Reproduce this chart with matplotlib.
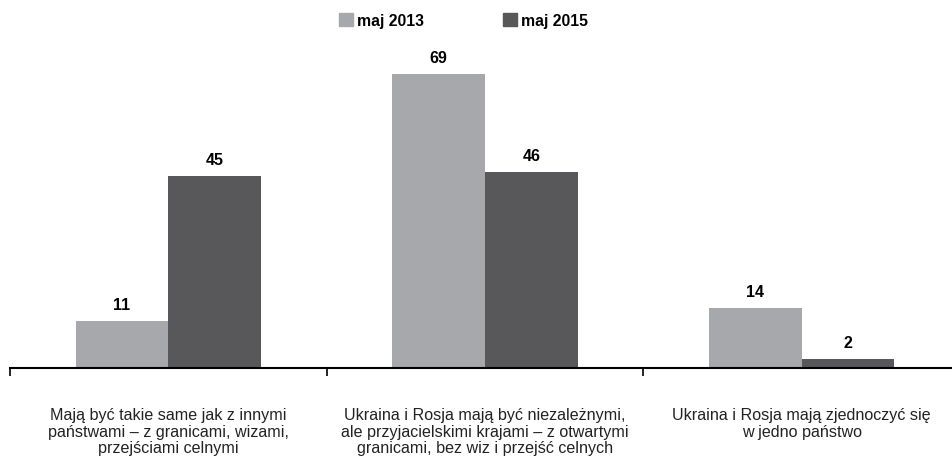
import matplotlib.pyplot as plt
import matplotlib.patches as mpatches
import numpy as np

plt.rcParams['font.family'] = ['Liberation Sans', 'DejaVu Sans']

# Data
categories = [
    "Mają być takie same jak z innymi\npaństwami – z granicami, wizami,\nprzejściami celnymi",
    "Ukraina i Rosja mają być niezależnymi,\nale przyjacielskimi krajami – z otwartymi\ngranicami, bez wiz i przejść celnych",
    "Ukraina i Rosja mają zjednoczyć się\nw jedno państwo",
]
series_names = ["maj 2013", "maj 2015"]
values_2013 = [11, 69, 14]
values_2015 = [45, 46, 2]

light = "#a7a8ab"
dark = "#58585a"

fig = plt.figure(figsize=(9.52, 4.6), dpi=100)
# axes spans from x=10px to about 960px, axis line at y=369px
ax = fig.add_axes([10 / 952, 91 / 460, 950 / 952, 341 / 460])

x = np.arange(len(categories))
w = 0.293
b1 = ax.bar(x - w / 2, values_2013, w, color=light)
b2 = ax.bar(x + w / 2, values_2015, w, color=dark)

for bars, vals in [(b1, values_2013), (b2, values_2015)]:
    for rect, v in zip(bars, vals):
        ax.annotate(str(v), (rect.get_x() + rect.get_width() / 2, v),
                    xytext=(0, 6.5), textcoords="offset points",
                    ha="center", va="bottom", fontsize=11.5, fontweight="bold",
                    color="black")

ax.set_xlim(-0.5, 2.5)
ax.set_ylim(0, 80)

for s in ["top", "right", "left"]:
    ax.spines[s].set_visible(False)
ax.spines["bottom"].set_linewidth(1.5)
ax.set_yticks([])
ax.set_xticks([-0.5, 0.5, 1.5])
ax.set_xticklabels([])
ax.tick_params(axis="x", direction="out", length=6, width=1.2)

for i, lab in enumerate(categories):
    ax.text(i, -0.115, lab, transform=ax.get_xaxis_transform(),
            ha="center", va="top", fontsize=11.6, color="#222222",
            linespacing=1.12)

# legend at top
handles = [mpatches.Patch(color=light, label=series_names[0]),
           mpatches.Patch(color=dark, label=series_names[1])]
fig.legend(handles=handles, loc="upper center", bbox_to_anchor=(0.487, 1.0),
           ncol=2, frameon=False, prop={"weight": "bold", "size": 11.3},
           handlelength=0.9, handleheight=0.9, handletextpad=0.25,
           columnspacing=5.0)

fig.savefig("out.png", dpi=100)
